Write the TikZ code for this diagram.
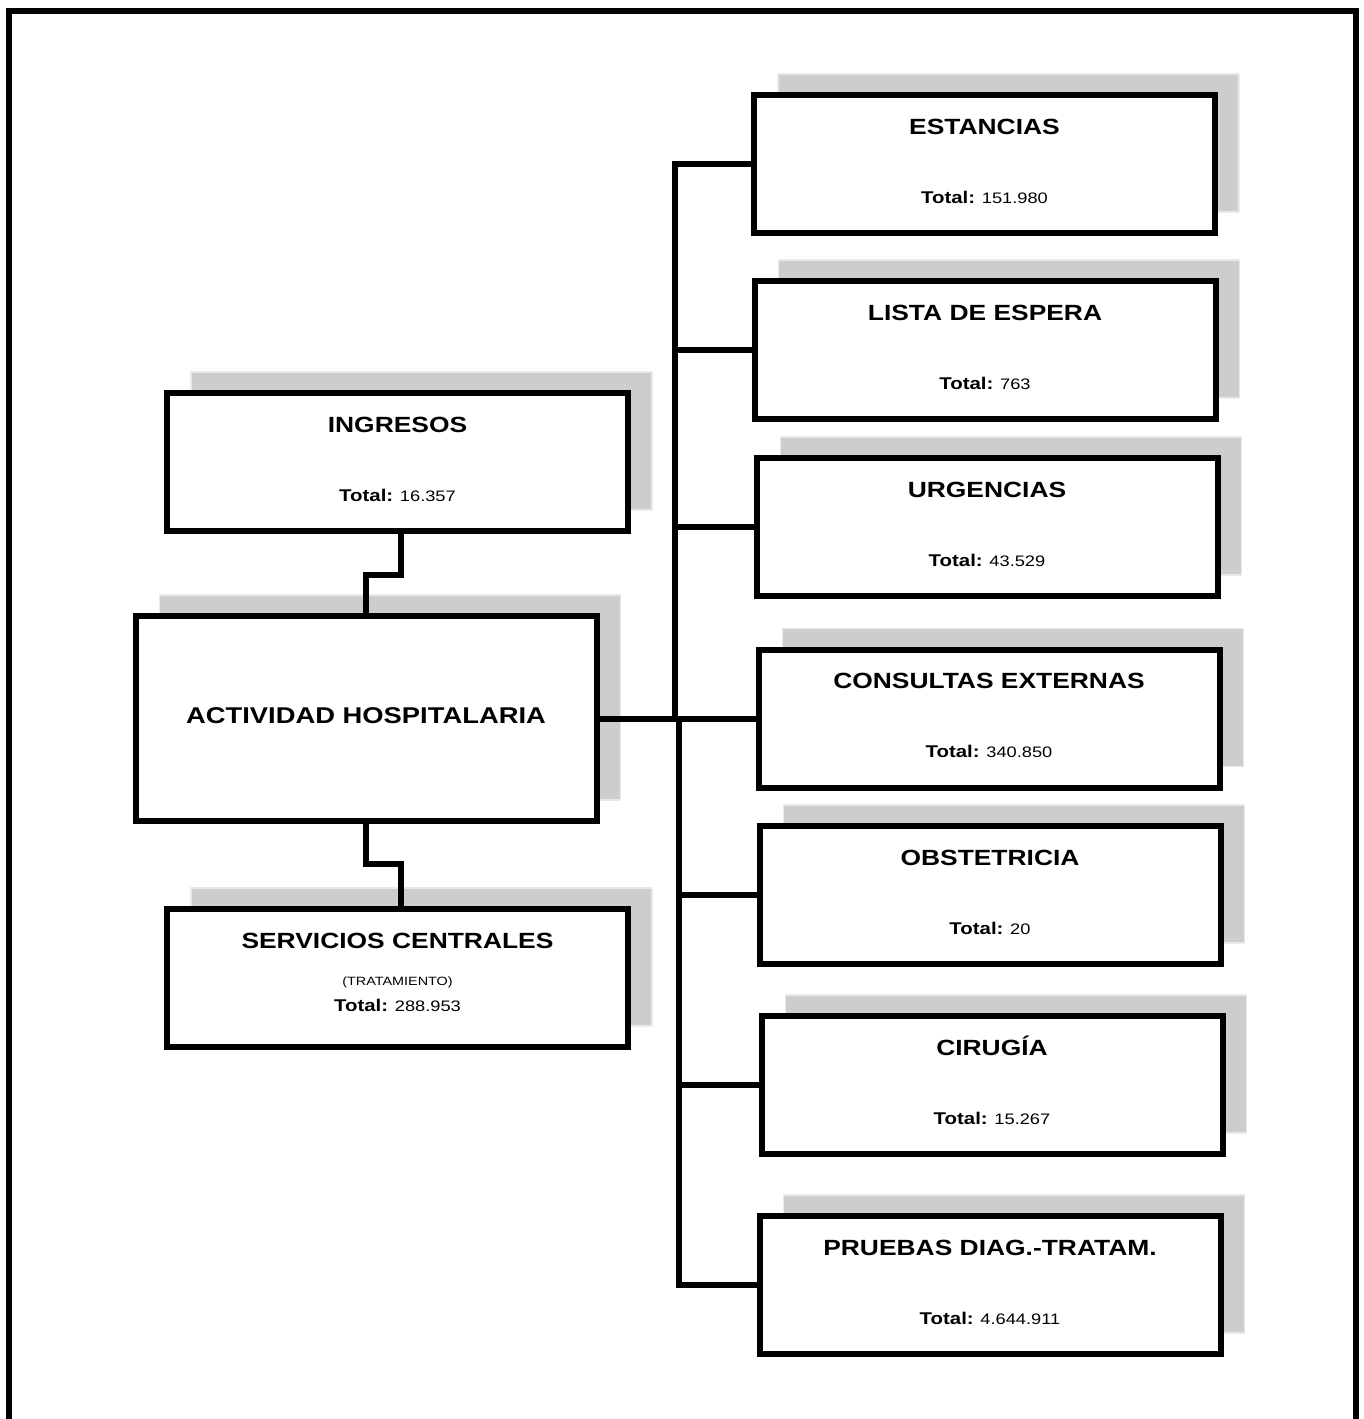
\documentclass[tikz,border=0pt]{standalone}
\usepackage{fontspec}
\setmainfont{Liberation Sans}[FakeStretch=1.2]
\usetikzlibrary{calc,shadows}
\definecolor{shfill}{RGB}{205,205,205}
\definecolor{shedge}{RGB}{234,234,234}
\tikzset{
  box/.style={draw=black, line width=3pt, fill=white, rectangle, inner sep=0pt,
    minimum width=230.5pt, minimum height=69pt,
    general shadow={shadow xshift=12pt, shadow yshift=10.5pt, fill=shfill, draw=shedge, line width=0.8pt}},
  head/.style={anchor=base, inner sep=0pt, font=\fontsize{11}{13}\selectfont\bfseries},
  tot/.style={anchor=base, inner sep=0pt, font=\fontsize{7.6}{9}\selectfont},
  sub/.style={anchor=base, inner sep=0pt, font=\fontsize{6}{7}\selectfont},
  conn/.style={draw=black, line width=3pt},
  frameline/.style={draw=black, line width=3pt, line join=miter}
}
\newcommand{\tlabel}[1]{{\fontsize{8.5}{10}\selectfont\bfseries Total:} #1}
\begin{document}
\begin{tikzpicture}[x=0.5pt,y=-0.5pt]
\useasboundingbox (0,0) rectangle (1364,1419);
\draw[frameline] (9,1419) -- (9,11) -- (1356,11) -- (1356,1419);

% right column boxes
\node[box] (est) at (984.5,164) {};
\node[box] (lis) at (985,350) {};
\node[box] (urg) at (987,527) {};
\node[box] (con) at (989,718.5) {};
\node[box] (obs) at (990,895) {};
\node[box] (cir) at (992,1085) {};
\node[box] (pru) at (990,1285) {};

% left column boxes
\node[box] (ing) at (397.5,462) {};
\node[box, minimum height=102.5pt] (act) at (366,718.5) {};
\node[box] (ser) at (397.5,978) {};

% texts
\node[head] (est-h) at ($(est.center)+(0,-30)$) {ESTANCIAS};
\node[tot]  (est-t) at ($(est.center)+(0,39)$) {\tlabel{151.980}};
\node[head] (lis-h) at ($(lis.center)+(0,-30)$) {LISTA DE ESPERA};
\node[tot]  (lis-t) at ($(lis.center)+(0,39)$) {\tlabel{763}};
\node[head] (urg-h) at ($(urg.center)+(0,-30)$) {URGENCIAS};
\node[tot]  (urg-t) at ($(urg.center)+(0,39)$) {\tlabel{43.529}};
\node[head] (con-h) at ($(con.center)+(0,-30)$) {CONSULTAS EXTERNAS};
\node[tot]  (con-t) at ($(con.center)+(0,39)$) {\tlabel{340.850}};
\node[head] (obs-h) at ($(obs.center)+(0,-30)$) {OBSTETRICIA};
\node[tot]  (obs-t) at ($(obs.center)+(0,39)$) {\tlabel{20}};
\node[head] (cir-h) at ($(cir.center)+(0,-30)$) {CIRUGÍA};
\node[tot]  (cir-t) at ($(cir.center)+(0,39)$) {\tlabel{15.267}};
\node[head] (pru-h) at ($(pru.center)+(0,-30)$) {PRUEBAS DIAG.-TRATAM.};
\node[tot]  (pru-t) at ($(pru.center)+(0,39)$) {\tlabel{4.644.911}};

\node[head] (ing-h) at ($(ing.center)+(0,-30)$) {INGRESOS};
\node[tot]  (ing-t) at ($(ing.center)+(0,39)$) {\tlabel{16.357}};
\node[head, font=\fontsize{11.4}{13}\selectfont\bfseries] (act-h) at ($(act.center)+(0,5)$) {ACTIVIDAD HOSPITALARIA};
\node[head] (ser-h) at ($(ser.center)+(0,-30)$) {SERVICIOS CENTRALES};
\node[sub]  (ser-s) at ($(ser.center)+(0,7)$) {(TRATAMIENTO)};
\node[tot]  (ser-t) at ($(ser.center)+(0,33)$) {\tlabel{288.953}};

% connectors
\coordinate (ju) at (675,718.5);
\coordinate (jl) at (679,718.5);
\draw[conn] ($(ing.south)+(3,0)$) -- ++(0,41) -| (act.north);
\draw[conn] (act.south) -- ++(0,40) -| ($(ser.north)+(3,0)$);
\draw[conn] (est.west) -| (ju);
\draw[conn] (lis.west) -- (lis.west -| ju);
\draw[conn] (urg.west) -- (urg.west -| ju);
\draw[conn] (act.east) -- (con.west);
\draw[conn] (obs.west) -- (obs.west -| jl);
\draw[conn] (cir.west) -- (cir.west -| jl);
\draw[conn] (pru.west) -| (jl);
\end{tikzpicture}
\end{document}
